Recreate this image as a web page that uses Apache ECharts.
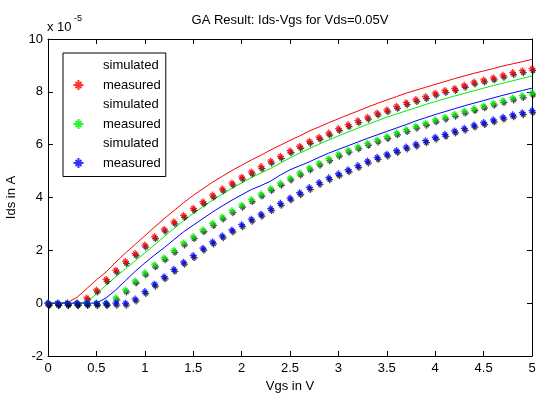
<!DOCTYPE html>
<html>
<head>
<meta charset="utf-8">
<script src="https://cdn.jsdelivr.net/npm/echarts@6/dist/echarts.min.js"></script>
<style>
  html, body { margin: 0; padding: 0; background: #fff; }
  #chart { width: 536px; height: 394px; }
</style>
</head>
<body>
<div id="chart"></div>
<script>
// Vgs sweep (V)
const vgs = [0, 0.1, 0.2, 0.3, 0.4, 0.5, 0.6, 0.7, 0.8, 0.9,
  1.0, 1.1, 1.2, 1.3, 1.4, 1.5, 1.6, 1.7, 1.8, 1.9,
  2.0, 2.1, 2.2, 2.3, 2.4, 2.5, 2.6, 2.7, 2.8, 2.9,
  3.0, 3.1, 3.2, 3.3, 3.4, 3.5, 3.6, 3.7, 3.8, 3.9,
  4.0, 4.1, 4.2, 4.3, 4.4, 4.5, 4.6, 4.7, 4.8, 4.9, 5.0];

// Ids in units of 1e-5 A
const simRed = [0, 0, 0.02, 0.22, 0.55, 0.88, 1.18, 1.55, 1.9, 2.22,
  2.55, 2.88, 3.2, 3.5, 3.8, 4.08, 4.33, 4.58, 4.8, 5.02,
  5.22, 5.42, 5.6, 5.8, 5.98, 6.16, 6.33, 6.52, 6.67, 6.83,
  6.98, 7.13, 7.27, 7.42, 7.56, 7.69, 7.82, 7.95, 8.06, 8.17,
  8.28, 8.39, 8.5, 8.6, 8.7, 8.79, 8.88, 8.98, 9.06, 9.14, 9.23];
const measRed = [0, 0, 0, 0, 0.2, 0.5, 0.9, 1.25, 1.58, 1.88,
  2.2, 2.52, 2.8, 3.08, 3.32, 3.59, 3.84, 4.09, 4.33, 4.55,
  4.77, 4.97, 5.17, 5.38, 5.56, 5.77, 5.94, 6.13, 6.28, 6.44,
  6.61, 6.76, 6.91, 7.04, 7.2, 7.32, 7.45, 7.59, 7.71, 7.82,
  7.95, 8.05, 8.13, 8.25, 8.37, 8.45, 8.53, 8.63, 8.73, 8.8, 8.88];
const simGreen = [0, 0, 0, 0, 0.05, 0.35, 0.68, 1.0, 1.3, 1.6,
  1.9, 2.2, 2.52, 2.82, 3.12, 3.4, 3.65, 3.9, 4.12, 4.35,
  4.55, 4.75, 4.93, 5.1, 5.3, 5.5, 5.68, 5.85, 6.02, 6.18,
  6.33, 6.48, 6.62, 6.77, 6.9, 7.04, 7.16, 7.28, 7.4, 7.52,
  7.63, 7.74, 7.84, 7.94, 8.04, 8.14, 8.24, 8.33, 8.42, 8.51, 8.6];
const measGreen = [0, 0, 0, 0, 0, 0, 0, 0.2, 0.5, 0.84,
  1.15, 1.45, 1.72, 2.0, 2.28, 2.52, 2.78, 3.02, 3.26, 3.5,
  3.71, 3.92, 4.13, 4.34, 4.54, 4.74, 4.93, 5.12, 5.3, 5.47,
  5.64, 5.79, 5.92, 6.05, 6.18, 6.31, 6.45, 6.57, 6.7, 6.81,
  6.94, 7.04, 7.15, 7.27, 7.37, 7.47, 7.57, 7.67, 7.77, 7.86, 7.96];
const simBlue = [0, 0, 0, 0, 0, 0, 0.2, 0.5, 0.85, 1.2,
  1.52, 1.82, 2.1, 2.4, 2.7, 2.95, 3.2, 3.45, 3.68, 3.9,
  4.1, 4.3, 4.45, 4.62, 4.85, 5.05, 5.2, 5.35, 5.52, 5.68,
  5.82, 5.96, 6.1, 6.24, 6.37, 6.5, 6.63, 6.76, 6.9, 7.02,
  7.14, 7.25, 7.36, 7.47, 7.57, 7.67, 7.77, 7.87, 7.96, 8.05, 8.14];
const measBlue = [0, 0, 0, 0, 0, 0, 0, 0, 0, 0.16,
  0.44, 0.72, 1.0, 1.28, 1.55, 1.8, 2.08, 2.32, 2.55, 2.77,
  2.97, 3.18, 3.37, 3.58, 3.78, 3.98, 4.18, 4.38, 4.57, 4.75,
  4.9, 5.05, 5.21, 5.38, 5.52, 5.64, 5.78, 5.91, 6.02, 6.15,
  6.28, 6.39, 6.52, 6.62, 6.74, 6.84, 6.94, 7.04, 7.13, 7.21, 7.29];

const FONT = 'Liberation Sans, Arial, sans-serif';
const STAR = 'path://M0,5L10,5M5,0L5,10M2,2L8,8M8,2L2,8';

const pairs = ys => vgs.map((x, i) => [x, ys[i]]);

const simSeries = (name, color, ys) => ({
  name, type: 'line', data: pairs(ys),
  symbol: 'none', color,
  lineStyle: { color, width: 1 },
  silent: true, z: 2
});
const measSeries = (name, color, ys) => ({
  name, type: 'scatter', data: pairs(ys),
  symbol: STAR, symbolSize: 7, color,
  itemStyle: {
    color: 'none', borderColor: color, borderWidth: 1.3,
    shadowColor: 'rgba(0,0,0,0.9)', shadowBlur: 0, shadowOffsetX: 1, shadowOffsetY: 2
  },
  silent: true, z: 3
});
// line legend entries: keep the series' own line, hide its symbol
const lineItem = (name, color) => ({
  name, icon: 'circle',
  itemStyle: { opacity: 0 },
  lineStyle: { color, width: 1 }
});

const boxAxis = {
  axisLine: { onZero: false, lineStyle: { color: '#000', width: 1 } },
  axisTick: { inside: true, length: 5, lineStyle: { color: '#000' } },
  splitLine: { show: false }
};

const chart = echarts.init(document.getElementById('chart'));
chart.setOption({
  animation: false,
  backgroundColor: '#fff',
  textStyle: { fontFamily: FONT },
  grid: { left: 48, right: 4, top: 39, bottom: 38, outerBoundsMode: 'none' },
  legend: {
    orient: 'vertical',
    left: 63, top: 53,
    padding: [6, 5, 6, 8],
    itemWidth: 39, itemHeight: 10, itemGap: 5.5,
    backgroundColor: '#fff',
    borderColor: '#000', borderWidth: 1,
    textStyle: { fontSize: 13, color: '#000', fontFamily: FONT },
    formatter: n => n.split('#')[0],
    data: [
      lineItem('simulated#r', '#ff0000'), 'measured#r',
      lineItem('simulated#g', '#00ee00'), 'measured#g',
      lineItem('simulated#b', '#0000ff'), 'measured#b'
    ]
  },
  xAxis: [{
    type: 'value', min: 0, max: 5, interval: 0.5, ...boxAxis,
    name: 'Vgs in V', nameLocation: 'middle', nameGap: 18,
    nameTextStyle: { fontSize: 13, color: '#000' },
    axisLabel: { fontSize: 13, color: '#000', margin: 6 }
  }, {
    type: 'value', min: 0, max: 5, interval: 0.5, position: 'top', ...boxAxis,
    axisLabel: { show: false }
  }],
  yAxis: [{
    type: 'value', min: -2, max: 10, interval: 2, ...boxAxis,
    axisLine: { show: true, onZero: false, lineStyle: { color: '#000', width: 1 } },
    axisTick: { show: true, inside: true, length: 5, lineStyle: { color: '#000' } },
    name: 'Ids in A', nameLocation: 'middle', nameGap: 24,
    nameTextStyle: { fontSize: 13, color: '#000' },
    axisLabel: { fontSize: 13, color: '#000', margin: 5 }
  }, {
    type: 'value', min: -2, max: 10, interval: 2, position: 'right', ...boxAxis,
    axisLine: { show: true, onZero: false, lineStyle: { color: '#000', width: 1 } },
    axisTick: { show: true, inside: true, length: 5, lineStyle: { color: '#000' } },
    axisLabel: { show: false }
  }],
  graphic: [{
    type: 'text', x: 290, y: 20,
    style: {
      text: 'GA Result: Ids-Vgs for Vds=0.05V', fill: '#000', font: '13px ' + FONT,
      align: 'center', verticalAlign: 'middle'
    }
  }, {
    type: 'text', x: 47, y: 27,
    style: { text: 'x 10', fill: '#000', font: '13px ' + FONT, verticalAlign: 'middle' }
  }, {
    type: 'text', x: 74, y: 19,
    style: { text: '-5', fill: '#000', font: '9px ' + FONT, verticalAlign: 'middle' }
  }],
  series: [
    simSeries('simulated#r', '#ff0000', simRed),
    measSeries('measured#r', '#ff0000', measRed),
    simSeries('simulated#g', '#00ee00', simGreen),
    measSeries('measured#g', '#00ee00', measGreen),
    simSeries('simulated#b', '#0000ff', simBlue),
    measSeries('measured#b', '#0000ff', measBlue)
  ]
});
</script>
</body>
</html>
